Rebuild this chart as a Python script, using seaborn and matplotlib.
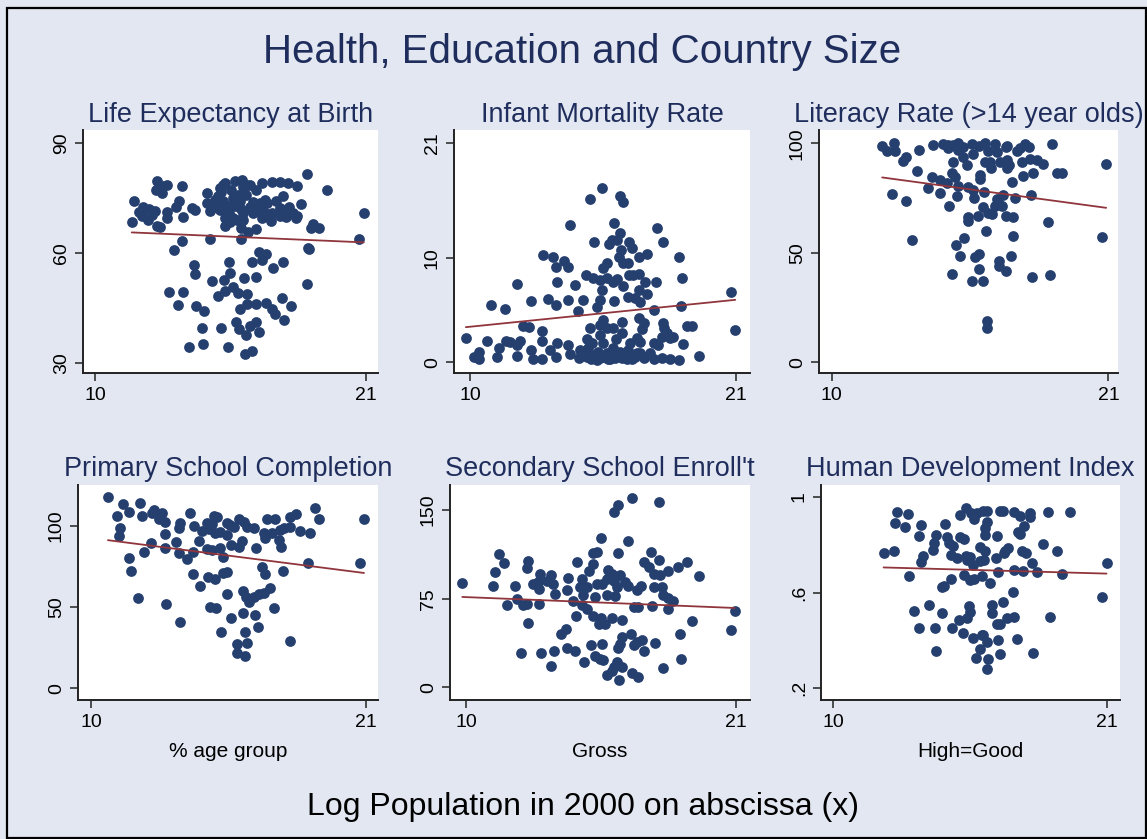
import matplotlib
matplotlib.use("Agg")
import matplotlib.pyplot as plt
import seaborn as sns
import pandas as pd
from matplotlib.patches import Rectangle

# ---------------- data (log population, indicator) ----------------
life_pts = [
    (18.63,81.6),(12.53,79.8),(12.94,78.5),(12.77,78.2),(13.52,78.4),(12.48,77.3),(12.71,76.4),(15.3,79.1),
    (15.68,79.8),(15.98,80.0),(16.16,78.6),(16.77,79.1),(17.21,79.4),(17.51,79.4),(17.85,79.1),(18.21,78.4),
    (19.43,77.1),(15.07,77.7),(15.51,77.3),(14.53,76.5),(11.58,74.3),(11.94,72.5),(12.44,71.4),(12.94,71.1),
    (13.27,72.5),(13.41,74.1),(14.06,71.8),(13.95,72.3),(13.59,69.8),(11.49,68.6),(11.89,70.0),(12.17,69.1),
    (12.50,67.5),(12.64,67.1),(12.94,69.5),(14.67,71.4),(14.53,73.6),(14.87,74.5),(15.21,74.1),(15.07,71.8),
    (15.44,70.9),(15.62,69.5),(15.3,67.3),(15.75,69.1),(15.95,72.0),(16.13,75.9),(16.43,70.9),(16.77,72.3),
    (17.0,73.8),(17.37,74.1),(17.65,75.6),(17.51,72.3),(18.05,70.9),(18.39,73.5),(17.78,69.8),(18.16,69.5),
    (17.17,68.9),(16.9,70.9),(18.86,67.9),(19.11,66.8),(18.77,66.8),(20.92,70.9),(15.93,66.8),(16.22,65.9),
    (16.54,66.5),(15.28,69.5),(15.89,74.1),(16.56,77.3),(16.7,73.6),(16.29,78.6),(15.0,75.5),(15.4,73.0),
    (16.0,71.0),(16.3,72.5),(15.8,76.0),(16.6,71.5),(15.5,68.5),(16.0,69.0),(17.2,71.0),(14.9,72.5),
    (16.9,74.5),(15.2,78.5),(16.0,78.0),(15.6,75.0),(17.7,70.5),(18.2,70.0),
    (12.2,72.0),(12.3,70.5),(11.8,71.2),(15.1,76.6),(15.7,72.8),(16.4,74.0),(15.35,70.2),(16.8,69.5),
    (17.5,70.2),(17.9,72.6),
    (13.55,63.4),(13.22,60.9),(14.67,63.9),(15.93,63.9),(20.73,63.9),(18.66,61.5),(18.7,61.1),(16.66,60.2),
    (16.93,59.8),(16.77,58.2),(16.36,57.5),(17.65,57.5),(17.24,55.9),(15.45,57.6),(14.03,56.8),(14.06,54.3),
    (15.48,54.5),(14.76,52.5),(15.24,52.7),(16.06,53.2),(16.56,53.6),(18.63,51.6),(13.0,49.3),(13.56,49.5),
    (15.0,48.4),(15.3,49.8),(15.62,50.9),(15.82,49.1),(16.18,48.8),(13.36,45.9),(14.1,45.5),(14.44,44.3),
    (15.89,44.7),(16.16,46.2),(16.54,46.2),(16.94,46.4),(17.21,44.7),(17.33,43.4),(17.58,47.7),(17.96,45.6),
    (17.67,41.8),(14.33,39.7),(15.1,39.5),(15.72,41.1),(15.86,39.3),(16.29,40.0),(16.54,41.1),(16.67,38.4),
    (16.12,37.7),(13.82,34.5),(14.37,35.2),(15.41,34.4),(16.09,32.5),(16.36,33.4),
]

infant_pts = [
    (15.45,16.68),(14.97,15.65),(16.21,15.94),(16.34,15.4),(14.14,13.16),(15.97,13.32),(17.72,12.91),(15.13,11.5),
    (16.21,12.36),(15.86,11.73),(15.77,11.31),(16.07,11.73),(16.59,11.5),(16.69,10.99),(18.0,11.57),(13.03,10.29),
    (13.42,10.13),(13.89,9.74),(13.56,9.11),(14.07,9.17),(15.66,9.49),(15.52,9.01),(16.18,10.13),(16.25,10.77),
    (16.97,10.13),(17.34,10.35),(18.66,10.13),(16.34,9.49),(16.55,9.49),(11.93,7.48),(13.59,7.67),(14.34,7.41),
    (14.79,8.37),(15.1,8.05),(15.38,7.89),(15.66,8.05),(15.93,7.73),(16.07,7.99),(15.45,6.93),(16.34,7.32),
    (16.59,8.37),(16.76,8.37),(16.99,8.47),(17.24,7.73),(17.7,7.73),(18.76,8.12),(16.97,6.93),(17.31,6.52),
    (16.55,6.29),(16.83,6.13),(17.03,5.81),(10.86,5.5),(11.45,5.11),(12.52,5.88),(13.24,6.07),(13.54,5.5),
    (14.04,5.97),(14.69,5.97),(14.46,4.95),(15.24,5.34),(15.38,5.97),(15.96,5.88),(17.63,5.02),(18.72,5.4),
    (20.79,6.71),(20.97,3.13),(12.18,3.48),(12.46,3.35),(12.97,3.0),(14.97,3.26),(15.38,3.58),(15.52,4.06),
    (15.66,3.26),(15.93,3.26),(16.28,3.9),(16.97,4.22),(17.21,3.74),(17.1,3.16),(18.0,3.74),(18.03,3.26),
    (18.14,2.78),(18.28,2.3),(18.97,3.51),(19.17,3.51),(9.83,2.3),(10.72,2.08),(11.49,2.04),(11.66,1.98),
    (12.07,2.08),(11.93,1.66),(12.97,2.08),(13.59,1.82),(14.07,1.66),(14.83,2.2),(15.03,1.82),(15.38,2.62),
    (15.52,1.82),(16.04,2.2),(16.28,2.78),(16.62,1.82),(16.9,2.3),(17.03,1.98),(17.59,1.82),(17.79,1.66),
    (17.93,2.46),(18.41,2.46),(18.83,1.73),(10.39,1.02),(10.17,0.48),(10.39,0.29),(11.13,0.54),(11.21,1.34),
    (11.96,0.61),(12.52,1.18),(12.59,0.29),(12.97,0.29),(13.31,1.18),(13.54,0.54),(14.14,0.8),(14.55,1.18),
    (14.52,0.45),(14.9,1.34),(15.1,0.7),(15.38,0.38),(15.66,0.86),(15.93,1.34),(16.14,0.86),(16.28,0.38),
    (16.55,1.18),(16.83,0.54),(17.03,0.86),(17.45,0.93),(17.59,0.29),(17.93,0.38),(18.28,0.35),(18.66,0.22),
    (19.49,0.64),(15.79,0.29),(15.24,0.22),(16.48,0.29),(14.83,0.54),
    (15.0,0.3),(15.5,0.5),(15.7,0.35),(16.0,0.45),(16.2,1.0),(16.7,0.3),(16.9,0.9),(15.3,1.0),
    (17.2,0.4),(14.7,0.9),(15.85,0.6),(16.4,0.6),
]

literacy_pts = [
    (12.01,98.8),(12.21,96.7),(12.48,100),(12.52,96.7),(12.82,92.1),(12.96,93.6),(13.49,97.0),(14.04,99.2),
    (14.44,99.7),(14.64,99.2),(14.64,97.7),(14.84,99.2),(15.04,100),(15.24,98.5),(15.59,99.7),(15.86,98.8),
    (16.1,100),(16.23,96.7),(16.49,99.7),(16.56,96.2),(16.93,98.2),(16.96,98.9),(17.36,96.7),(17.49,97.7),
    (17.69,99.7),(17.86,98.5),(18.75,99.7),(15.04,97.0),(15.24,93.9),(15.37,90.1),(15.63,95.1),(14.84,91.6),
    (16.1,91.6),(16.3,91.3),(16.32,88.6),(16.69,91.6),(16.96,92.4),(16.96,88.6),(17.06,90.1),(17.55,91.6),
    (17.89,92.7),(18.15,92.4),(18.39,90.6),(20.91,90.6),(13.38,87.5),(13.98,84.5),(14.31,83.3),(14.57,82.0),
    (14.77,86.6),(14.9,84.8),(15.9,85.5),(15.9,83.6),(17.62,85.1),(18.02,86.3),(18.95,86.3),(19.15,86.6),
    (13.82,79.5),(14.31,77.2),(14.97,76.0),(15.04,80.5),(15.43,79.9),(15.63,78.7),(15.66,74.9),(16.07,77.9),
    (16.56,74.4),(16.83,76.4),(17.29,74.9),(17.93,76.4),(17.18,82.5),(12.39,76.9),(12.96,73.8),(14.67,71.5),
    (16.03,71.1),(16.23,68.3),(16.36,67.7),(16.49,71.4),(16.67,72.3),(16.76,71.4),(15.41,66.2),(15.43,64.7),
    (15.83,66.8),(16.93,66.8),(17.22,66.5),(18.61,64.2),(16.14,60.1),(17.22,57.7),(13.21,55.9),(14.93,53.6),
    (15.27,56.9),(20.74,57.1),(15.1,48.6),(15.7,47.9),(15.86,49.5),(16.67,46.4),(16.67,44.0),(16.93,41.9),
    (17.13,48.7),(15.86,42.6),(14.77,40.2),(15.59,37.3),(16.03,37.3),(17.95,38.8),(18.68,39.9),(16.19,19.0),
    (16.16,15.8),
]

primary_pts = [
    (10.68,117.8),(11.28,113.1),(11.51,108.6),(11.04,105.9),(11.95,114.1),(12.04,105.9),(11.15,98.4),(11.11,93.6),
    (12.51,109.6),(12.44,108.0),(12.84,107.6),(12.71,103.9),(12.97,102.5),(13.97,108.0),(13.57,101.4),(13.51,98.8),
    (14.11,99.8),(12.97,94.9),(12.4,89.1),(12.13,84.0),(12.97,86.1),(13.4,89.8),(13.53,83.0),(13.84,79.3),
    (14.07,84.0),(14.31,90.6),(14.44,96.9),(14.64,101.4),(14.91,105.9),(15.04,105.1),(14.71,97.7),(14.97,95.3),
    (14.84,101.0),(15.17,96.3),(15.44,101.8),(15.55,100.4),(15.71,99.4),(15.91,103.9),(16.11,102.5),(16.24,99.4),
    (16.51,98.4),(15.44,94.3),(15.61,88.1),(15.17,86.5),(15.93,87.1),(16.04,90.6),(16.6,86.1),(14.64,85.5),
    (14.84,85.0),(15.27,80.9),(17.04,103.9),(17.37,103.9),(16.91,95.3),(16.97,92.2),(17.24,95.3),(17.57,97.3),
    (17.71,98.4),(17.51,91.2),(17.6,86.7),(17.97,99.4),(17.95,105.1),(18.21,107.2),(18.37,96.9),(18.77,95.7),
    (18.95,111.1),(19.13,103.9),(20.93,103.9),(18.68,76.8),(20.75,77.3),(11.51,79.9),(11.6,72.1),(14.08,70.1),
    (14.67,68.6),(14.97,67.2),(15.27,70.7),(15.44,71.7),(16.84,74.8),(16.95,70.1),(17.67,72.1),(14.35,62.9),
    (15.44,58.0),(16.08,60.0),(16.2,55.9),(16.31,53.3),(16.51,56.4),(16.71,58.0),(16.91,58.4),(17.15,61.5),
    (11.88,55.3),(13.01,51.8),(14.77,50.2),(15.01,49.2),(17.31,49.2),(15.61,43.0),(16.07,46.1),(16.55,45.1),
    (16.68,37.9),(13.57,41.0),(15.2,34.8),(16.17,34.8),(17.95,29.1),(15.84,27.3),(16.24,28.1),(15.84,21.9),
    (16.17,19.9),
]

secondary_pts = [
    (16.78,160.7),(16.18,154.2),(16.03,148.6),(17.88,157.0),(15.49,126.1),(16.62,124.2),(11.35,112.9),(11.55,105.1),
    (11.18,97.5),(11.11,85.4),(9.85,88.2),(12.0,85.7),(12.54,107.3),(12.5,101.1),(13.02,96.1),(12.74,87.1),
    (12.95,89.0),(12.99,82.9),(13.29,90.4),(13.46,94.7),(13.56,87.6),(13.63,79.2),(14.17,92.4),(14.1,82.0),
    (14.51,106.5),(15.19,113.5),(15.35,114.9),(15.19,104.5),(15.01,98.3),(14.71,91.9),(14.65,84.8),(14.92,84.8),
    (15.33,87.6),(15.53,87.1),(15.8,99.4),(15.94,96.1),(15.73,91.9),(16.01,90.4),(16.28,94.7),(16.48,89.0),
    (16.59,85.4),(16.14,84.8),(15.73,77.8),(16.07,77.0),(14.78,77.8),(15.26,76.4),(16.18,113.8),(17.53,114.3),
    (17.88,107.9),(17.27,105.9),(17.47,101.7),(17.64,96.1),(17.91,94.7),(18.25,98.9),(18.65,102.2),(18.99,105.9),
    (19.51,94.1),(17.12,85.4),(16.96,82.0),(17.64,84.8),(17.98,84.8),(18.04,77.8),(18.25,75.8),(18.45,73.0),
    (12.09,74.4),(12.31,69.4),(12.5,70.2),(11.66,69.4),(12.99,70.8),(14.37,73.0),(14.71,69.4),(14.92,66.6),
    (16.85,68.0),(17.02,68.0),(17.57,68.8),(18.22,66.0),(20.94,64.6),(20.79,48.3),(14.48,60.1),(15.16,60.1),
    (15.49,59.0),(15.43,53.9),(15.67,53.4),(15.96,59.0),(16.37,57.3),(19.2,56.2),(12.54,54.5),(13.86,45.5),
    (14.08,49.7),(16.35,42.7),(16.71,45.5),(16.86,35.7),(16.98,38.5),(17.19,40.4),(17.7,37.9),(18.72,45.5),
    (12.23,29.5),(13.04,28.7),(13.59,30.6),(14.1,33.7),(14.44,30.9),(15.1,35.7),(15.53,37.1),(16.21,32.9),
    (16.28,37.1),(17.27,30.6),(14.81,21.6),(15.26,26.4),(15.46,24.4),(15.6,23.0),(13.45,18.0),(16.01,17.4),
    (16.14,21.6),(16.35,17.4),(15.73,10.4),(15.94,14.0),(16.24,6.2),(16.75,11.8),(17.02,9.0),(18.02,16.6),
    (18.75,23.6),
]

hdi_pts = [
    (12.56,0.937),(12.99,0.928),(12.5,0.889),(12.9,0.875),(13.54,0.882),(14.5,0.885),(13.43,0.836),(14.14,0.84),
    (14.57,0.833),(14.67,0.808),(14.83,0.794),(14.06,0.808),(14.01,0.777),(13.63,0.752),(13.52,0.729),(12.03,0.763),
    (12.43,0.773),(13.03,0.669),(15.1,0.923),(15.33,0.951),(15.53,0.93),(15.66,0.905),(15.77,0.93),(16.01,0.942),
    (16.17,0.942),(16.19,0.896),(16.1,0.868),(16.1,0.84),(16.57,0.836),(16.68,0.94),(16.81,0.94),(17.24,0.937),
    (17.5,0.919),(17.9,0.933),(17.9,0.914),(18.64,0.935),(19.51,0.935),(17.66,0.878),(17.4,0.854),(17.48,0.844),
    (15.1,0.83),(15.26,0.822),(14.73,0.757),(14.97,0.743),(15.34,0.752),(15.5,0.75),(15.39,0.736),(15.63,0.715),
    (15.9,0.791),(16.1,0.775),(15.9,0.733),(16.06,0.736),(16.54,0.743),(16.84,0.763),(16.9,0.773),(17.0,0.784),
    (17.57,0.773),(17.74,0.763),(17.97,0.722),(18.44,0.801),(18.97,0.773),(16.6,0.687),(17.24,0.694),(17.61,0.691),
    (18.2,0.687),(19.17,0.677),(20.97,0.725),(15.27,0.673),(15.5,0.652),(15.66,0.655),(15.97,0.669),(16.28,0.641),
    (14.37,0.622),(14.46,0.627),(14.73,0.658),(17.2,0.603),(20.77,0.58),(13.23,0.523),(13.87,0.548),(14.37,0.513),
    (15.47,0.544),(15.5,0.52),(16.37,0.548),(16.37,0.513),(16.81,0.559),(15.07,0.485),(15.37,0.492),(16.97,0.492),
    (17.26,0.496),(18.7,0.499),(13.43,0.453),(14.1,0.45),(14.79,0.45),(15.23,0.432),(15.63,0.409),(15.97,0.423),
    (16.17,0.395),(16.01,0.423),(16.6,0.402),(17.37,0.405),(16.57,0.469),(16.7,0.469),(14.14,0.356),(15.9,0.363),
    (15.74,0.325),(16.23,0.322),(16.7,0.343),(18.01,0.349),(16.19,0.279),
]

panel_titles = ["Life Expectancy at Birth", "Infant Mortality Rate", "Literacy Rate (>14 year olds)",
                "Primary School Completion", "Secondary School Enroll't", "Human Development Index"]
x_titles = ["", "", "", "% age group", "Gross", "High=Good"]
x_ticks = [10, 21]
y_ticks = [[30, 60, 90], [0, 10, 21], [0, 50, 100], [0, 50, 100], [0, 75, 150], [0.2, 0.6, 1.0]]
y_ticklabels = [["30", "60", "90"], ["0", "10", "21"], ["0", "50", "100"],
                ["0", "50", "100"], ["0", "75", "150"], [".2", ".6", "1"]]
main_title = "Health, Education and Country Size"
note = "Log Population in 2000 on abscissa (x)"

# ---------------- style ----------------
sns.set_theme(style="ticks")
plt.rcParams["font.family"] = ["Liberation Sans", "DejaVu Sans"]

W, H = 1147, 839
BG = "#e2e7f1"
NAVY = "#253f6f"
MAROON = "#90353b"
TITLE_C = "#1f2d5c"

fig = plt.figure(figsize=(W / 100, H / 100), dpi=100, facecolor=BG)

# pixel boxes: left, right, top, bottom
boxes = [(83, 378, 130, 373), (454, 750, 130, 373), (819, 1118, 130, 373),
         (78, 378, 485, 700), (450, 750, 485, 700), (821, 1120, 485, 700)]
xlims = [(9.51, 21.50), (9.34, 21.58), (9.50, 21.38), (9.48, 21.49), (9.35, 21.57), (9.52, 21.51)]
ylims = [(27.3, 93.6), (-1.03, 22.28), (-4.9, 106.1), (-7.2, 125.0), (-10.7, 171.3), (0.151, 1.049)]

datasets = [life_pts, infant_pts, literacy_pts, primary_pts, secondary_pts, hdi_pts]

for i, pts in enumerate(datasets):
    l, r, t, b = boxes[i]
    ax = fig.add_axes([l / W, 1 - b / H, (r - l) / W, (b - t) / H])
    ax.set_facecolor("white")
    df = pd.DataFrame(pts, columns=["logpop", "val"])
    sns.scatterplot(data=df, x="logpop", y="val", ax=ax, s=60, color=NAVY,
                    linewidth=0, zorder=2, legend=False)
    sns.regplot(data=df, x="logpop", y="val", ax=ax, scatter=False, ci=None,
                truncate=True, color=MAROON, line_kws=dict(lw=1.3, zorder=3))
    ax.set_xlim(*xlims[i])
    ax.set_ylim(*ylims[i])
    ax.set_xlabel("")
    ax.set_ylabel("")
    ax.set_xticks(x_ticks)
    ax.set_xticklabels([str(v) for v in x_ticks])
    ax.set_yticks(y_ticks[i])
    ax.set_yticklabels(y_ticklabels[i])
    for s in ("top", "right"):
        ax.spines[s].set_visible(False)
    for s in ("left", "bottom"):
        ax.spines[s].set_color("#222222")
        ax.spines[s].set_linewidth(1.4)
    ax.tick_params(axis="both", direction="out", length=5.5, width=1.1,
                   colors="#222222", labelcolor="black", labelsize=14)
    ax.tick_params(axis="x", pad=4.5)
    ax.tick_params(axis="y", pad=4)
    for lab in ax.get_yticklabels():
        lab.set_rotation(90)
        lab.set_va("center")
        lab.set_ha("right")
    cx = (l + r) / 2 / W
    title_base = (t - 8.5)
    fig.text(cx, 1 - title_base / H, panel_titles[i], ha="center", va="baseline",
             fontsize=19.5, color=TITLE_C)
    if x_titles[i]:
        fig.text(cx, 1 - 757 / H, x_titles[i], ha="center", va="baseline",
                 fontsize=15, color="black")

fig.text(582.5 / W, 1 - 63 / H, main_title, ha="center", va="baseline",
         fontsize=29, color=TITLE_C)
fig.text(583 / W, 1 - 815 / H, note, ha="center", va="baseline",
         fontsize=23, color="black")

fig.patches.append(Rectangle((7.5 / W, 1 / H), (1145.5 - 7.5) / W, (831.5 - 1) / H,
                             transform=fig.transFigure, fill=False, edgecolor="black",
                             linewidth=1.6, zorder=10))

fig.savefig("out.png", dpi=100, facecolor=BG)
